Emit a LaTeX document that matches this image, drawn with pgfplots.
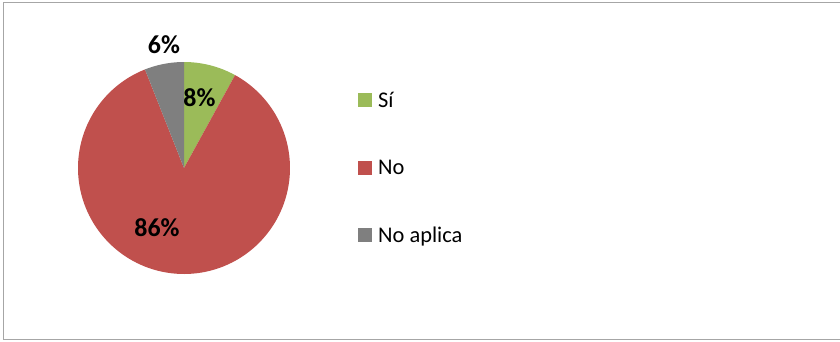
\documentclass[border=0pt]{standalone}
\usepackage{pgfplots}
\pgfplotsset{compat=1.18}
\usepackage{pgfplotstable}
\usepackage{fontspec}
\setmainfont{Carlito}
\definecolor{siC}{HTML}{9BBB59}
\definecolor{noC}{HTML}{C0504D}
\definecolor{naC}{HTML}{7F7F7F}
\definecolor{frameC}{HTML}{A6A6A6}

\pgfplotstableread{
label value
Si 8
No 86
NoAplica 6
}\piedata
\pgfplotstablegetelem{0}{value}\of\piedata \let\vA\pgfplotsretval
\pgfplotstablegetelem{1}{value}\of\piedata \let\vB\pgfplotsretval
\pgfplotstablegetelem{2}{value}\of\piedata \let\vC\pgfplotsretval
\pgfmathsetmacro{\aA}{90}
\pgfmathsetmacro{\aB}{90-3.6*\vA}
\pgfmathsetmacro{\aC}{90-3.6*(\vA+\vB)}
\pgfmathsetmacro{\aD}{90-3.6*(\vA+\vB+\vC)}
\def\cx{184}
\def\cy{168}
\def\rr{106}

\begin{document}
\begin{tikzpicture}
\begin{axis}[
  width=840bp, height=341bp, scale only axis,
  xmin=0, xmax=840, ymin=0, ymax=341, y dir=reverse,
  hide axis, clip=false,
  legend image code/.code={\fill[#1] (0bp,-7bp) rectangle (14bp,7bp);},
  legend style={at={(axis cs:358,93)}, anchor=north west, draw=none, fill=none,
    inner sep=0pt, column sep=6bp, row sep=52.9bp,
    font=\fontsize{22.5}{26}\selectfont,
    nodes={inner sep=0pt, text height=14.4bp, text depth=0bp}},
  legend cell align=left,
]
\coordinate (TL) at (axis cs:0,0);
\coordinate (BR) at (axis cs:840,341);
\draw[frameC, line width=1.2bp] (axis cs:841,2.3) -- (axis cs:3.5,2.3) -- (axis cs:3.5,339.5) -- (axis cs:841,339.5);
\addplot[fill=siC, draw=none, domain=\aB:\aA, samples=40, variable=\t]
  ({\cx+\rr*cos(\t)},{\cy-\rr*sin(\t)}) -- (axis cs:\cx,\cy) -- cycle;
\addlegendentry{Sí}
\addplot[fill=noC, draw=none, domain=\aC:\aB, samples=200, variable=\t]
  ({\cx+\rr*cos(\t)},{\cy-\rr*sin(\t)}) -- (axis cs:\cx,\cy) -- cycle;
\addlegendentry{No}
\addplot[fill=naC, draw=none, domain=\aD:\aC, samples=30, variable=\t]
  ({\cx+\rr*cos(\t)},{\cy-\rr*sin(\t)}) -- (axis cs:\cx,\cy) -- cycle;
\addlegendentry{No aplica}
\node[font=\bfseries\fontsize{26}{30}\selectfont, inner sep=0pt] at (axis cs:199.5,98) {8\%};
\node[font=\bfseries\fontsize{26}{30}\selectfont, inner sep=0pt] at (axis cs:157,228) {86\%};
\node[font=\bfseries\fontsize{26}{30}\selectfont, inner sep=0pt] at (axis cs:164,45) {6\%};
\end{axis}
\pgfresetboundingbox
\useasboundingbox (TL) rectangle (BR);
\end{tikzpicture}
\end{document}
